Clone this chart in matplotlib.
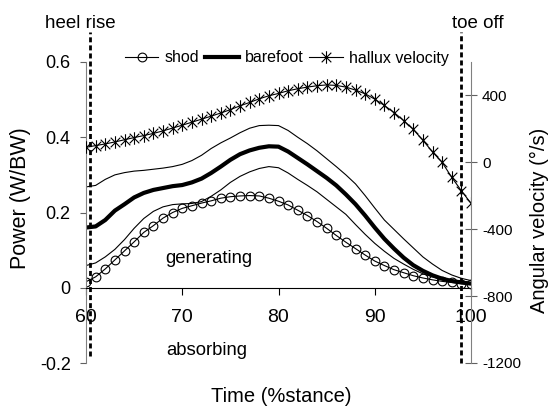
import matplotlib
matplotlib.use("Agg")
import matplotlib.pyplot as plt
from matplotlib.path import Path

plt.rcParams['font.family'] = ['Liberation Sans', 'DejaVu Sans']
plt.rcParams['axes.unicode_minus'] = False

# ---- data ----
time = [60, 61, 62, 63, 64, 65, 66, 67, 68, 69, 70, 71, 72, 73, 74, 75, 76, 77, 78, 79, 80,
        81, 82, 83, 84, 85, 86, 87, 88, 89, 90, 91, 92, 93, 94, 95, 96, 97, 98, 99, 100]

shod = [0.016, 0.029, 0.050, 0.074, 0.098, 0.122, 0.147, 0.165, 0.185, 0.200, 0.211,
        0.218, 0.225, 0.231, 0.238, 0.242, 0.244, 0.245, 0.244, 0.238, 0.230,
        0.220, 0.206, 0.192, 0.176, 0.158, 0.139, 0.121, 0.104, 0.087, 0.071,
        0.059, 0.048, 0.040, 0.032, 0.026, 0.021, 0.017, 0.014, 0.011, 0.009]

barefoot = [0.160, 0.163, 0.180, 0.205, 0.222, 0.240, 0.252, 0.260, 0.265, 0.270, 0.273,
            0.280, 0.290, 0.305, 0.322, 0.340, 0.355, 0.365, 0.372, 0.376, 0.375,
            0.362, 0.345, 0.328, 0.310, 0.292, 0.272, 0.248, 0.222, 0.192, 0.160,
            0.130, 0.104, 0.080, 0.060, 0.045, 0.033, 0.024, 0.018, 0.014, 0.011]

barefoot_upper = [0.268, 0.272, 0.288, 0.300, 0.306, 0.310, 0.312, 0.315, 0.318, 0.322, 0.328,
                  0.338, 0.352, 0.370, 0.385, 0.398, 0.412, 0.424, 0.431, 0.432, 0.431,
                  0.418, 0.400, 0.383, 0.364, 0.343, 0.322, 0.300, 0.276, 0.245, 0.212,
                  0.180, 0.155, 0.130, 0.106, 0.082, 0.063, 0.046, 0.034, 0.025, 0.019]

barefoot_lower = [0.059, 0.066, 0.082, 0.102, 0.128, 0.158, 0.184, 0.203, 0.215, 0.221, 0.223,
                  0.224, 0.229, 0.243, 0.260, 0.280, 0.296, 0.308, 0.317, 0.322, 0.319,
                  0.305, 0.288, 0.272, 0.255, 0.235, 0.215, 0.195, 0.168, 0.142, 0.118,
                  0.097, 0.078, 0.063, 0.049, 0.037, 0.029, 0.022, 0.017, 0.014, 0.013]

hallux_velocity = [90, 100, 110, 122, 135, 148, 160, 173, 188, 205, 222,
                   240, 258, 276, 295, 315, 338, 358, 380, 398, 412,
                   428, 440, 450, 458, 463, 460, 450, 432, 410, 378,
                   340, 298, 250, 197, 132, 62, 0, -90, -170, -245]

x_ticks = [60, 70, 80, 90, 100]
x_ticklabels = ["60", "70", "80", "90", "100"]
left_ticks = [-0.2, 0, 0.2, 0.4, 0.6]
left_ticklabels = ["-0.2", "0", "0.2", "0.4", "0.6"]
right_ticks = [-1200, -800, -400, 0, 400]
right_ticklabels = ["-1200", "-800", "-400", "0", "400"]

heel_rise_time = 60.4
toe_off_time = 99.0

W, H = 551, 407
fig = plt.figure(figsize=(W / 100, H / 100), dpi=100)
ax = fig.add_axes([86 / W, 44 / H, 385 / W, 301 / H])
ax2 = ax.twinx()

ax.set_xlim(60, 100)
ax.set_ylim(-0.2, 0.6)
ax2.set_ylim(-1200, 600)

# star marker (x + vertical bar)
star = Path([(-1, -1), (1, 1), (-1, 1), (1, -1), (0, -1.3), (0, 1.3)],
            [Path.MOVETO, Path.LINETO, Path.MOVETO, Path.LINETO, Path.MOVETO, Path.LINETO])

l_up, = ax.plot(time, barefoot_upper, color='black', lw=0.8)
l_lo, = ax.plot(time, barefoot_lower, color='black', lw=0.8)
l_bare, = ax.plot(time, barefoot, color='black', lw=3.0, label='barefoot')
l_shod, = ax.plot(time, shod, color='black', lw=0.8, marker='o', ms=6.3,
                  mfc='none', mec='black', mew=0.8, label='shod')
l_hal, = ax2.plot(time, hallux_velocity, color='black', lw=0.8, marker=star, ms=9,
                  mec='black', mew=0.8, label='hallux velocity')

# event lines
ax.plot([heel_rise_time, heel_rise_time], [-0.182, 0.68], color='black', lw=2.0,
        ls=(0, (1.8, 1.1)), clip_on=False, zorder=5)
ax.plot([toe_off_time, toe_off_time], [-0.2, 0.68], color='black', lw=2.0,
        ls=(0, (1.8, 1.1)), clip_on=False, zorder=5)

# spines
ax.spines['top'].set_visible(False)
ax.spines['right'].set_visible(False)
ax.spines['bottom'].set_position(('data', 0))
ax.spines['bottom'].set_color('black')
ax.spines['left'].set_color('#808080')
for s in ['top', 'left', 'bottom']:
    ax2.spines[s].set_visible(False)
ax2.spines['right'].set_color('#808080')

ax.set_xticks(x_ticks)
ax.set_xticklabels(x_ticklabels)
ax.set_yticks(left_ticks)
ax.set_yticklabels(left_ticklabels)
ax2.set_yticks(right_ticks)
ax2.set_yticklabels(right_ticklabels)

ax.tick_params(axis='x', direction='out', length=5, width=0.8, labelsize=14, pad=10.5, color='black')
ax.tick_params(axis='y', direction='out', length=4, width=0.8, labelsize=13, pad=7, color='#606060')
ax2.tick_params(axis='y', direction='inout', length=8, width=0.8, labelsize=11, pad=4, color='#606060')

# texts
fig.text(80 / W, 1 - 28 / H, 'heel rise', ha='center', va='baseline', fontsize=13.5)
fig.text(478 / W, 1 - 28 / H, 'toe off', ha='center', va='baseline', fontsize=13.5)
fig.text(209 / W, 1 - 263 / H, 'generating', ha='center', va='baseline', fontsize=13.3)
fig.text(207 / W, 1 - 355 / H, 'absorbing', ha='center', va='baseline', fontsize=13.3)
fig.text(281 / W, 1 - 402 / H, 'Time (%stance)', ha='center', va='baseline', fontsize=14.5)
fig.text(21 / W, 1 - 198 / H, 'Power (W/BW)', ha='center', va='center', rotation=90, fontsize=15.5)
fig.text(539 / W, 1 - 220 / H, 'Angular velocity (°/s)', ha='center', va='center', rotation=90, fontsize=14.5)

leg = ax.legend(handles=[l_shod, l_bare, l_hal], loc='center', ncol=3,
                bbox_to_anchor=(287 / W, 1 - 58 / H), bbox_transform=fig.transFigure,
                frameon=False, fontsize=11.5, handlelength=2.1, handletextpad=0.4,
                columnspacing=0.35, borderpad=0, numpoints=1)

fig.savefig('out.png', dpi=100)
